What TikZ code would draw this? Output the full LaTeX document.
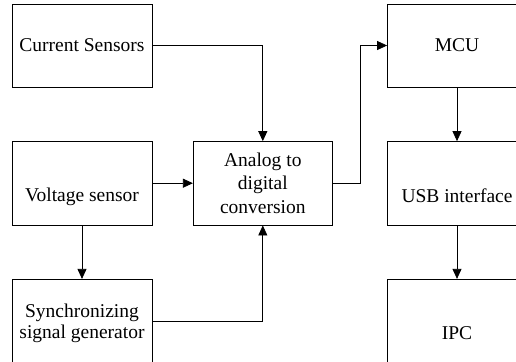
\documentclass[tikz,border=0pt]{standalone}
\usepackage{fontspec}
\setmainfont{Liberation Serif}
\newfontfamily\tnr{Liberation Serif}
\usetikzlibrary{arrows.meta}
\tikzset{
  blk/.style={draw=black, line width=0.8bp, minimum width=139bp, minimum height=83.5bp,
    inner sep=0pt, align=center, font=\tnr\fontsize{19.5bp}{22bp}\selectfont},
  low/.style={text height=37.5bp, text depth=0pt},
  arr/.style={draw=black, line width=0.8bp, -{Triangle[length=10bp,width=9bp]}},
  ln/.style={draw=black, line width=0.8bp}
}
\begin{document}
\begin{tikzpicture}[x=1bp,y=-1bp]
\useasboundingbox (0,0) rectangle (516,361);
\clip (0,0) rectangle (516,361);
\node[blk, minimum width=140bp, minimum height=83bp] (cs) at (82,45.5) {Current Sensors};
\node[blk, low, minimum width=140bp, minimum height=84bp] (vs) at (82,183.2) {Voltage sensor};
\node[blk, minimum width=140bp, minimum height=84bp, text depth=0pt,
  font=\tnr\fontsize{19.5bp}{21bp}\selectfont] (sg) at (82,321.3) {Synchronizing\\signal generator};
\node[blk, font=\tnr\fontsize{19.5bp}{23.3bp}\selectfont] (adc) at (262.8,183.3) {Analog to\\digital\\conversion};
\node[blk, minimum height=83bp] (mcu) at (457,45.5) {MCU};
\node[blk, low] (usb) at (457,183.3) {USB interface};
\node[blk, text height=36bp, text depth=0pt, minimum height=84bp] (ipc) at (457,321.3) {IPC};
\coordinate (j) at (360,183.3);
\draw[arr] (cs.east) -| (adc.north);
\draw[arr] (vs.east) -- (vs.east -| adc.west);
\draw[arr] (vs.south) -- (sg.north);
\draw[arr] (sg.east) -| (adc.south);
\draw[arr] (adc.east) -- (j) |- (mcu.west);
\draw[arr] (mcu.south) -- (usb.north);
\draw[arr] (usb.south) -- (ipc.north);
\end{tikzpicture}
\end{document}
